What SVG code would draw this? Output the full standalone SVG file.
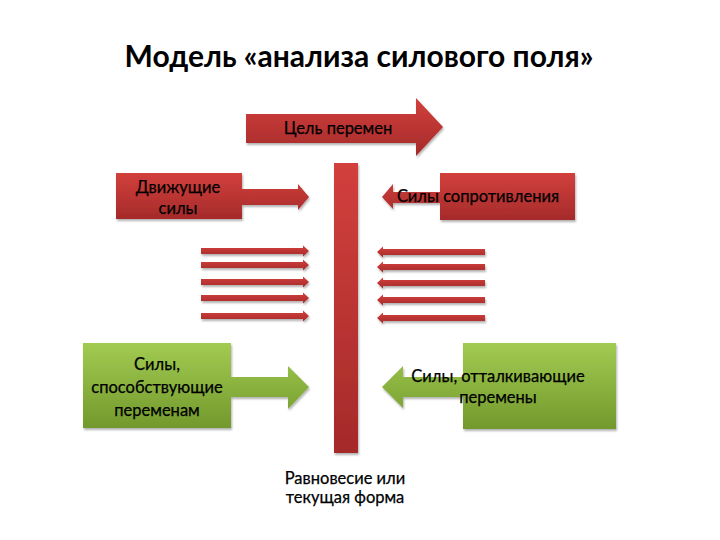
<svg xmlns="http://www.w3.org/2000/svg" width="720" height="540" viewBox="0 0 720 540">
<defs>
<linearGradient id="red" x1="0" y1="0" x2="0" y2="1"><stop offset="0" stop-color="#d2403c"/><stop offset="1" stop-color="#a52a2a"/></linearGradient>
<linearGradient id="green" x1="0" y1="0" x2="0" y2="1"><stop offset="0" stop-color="#a2cb52"/><stop offset="1" stop-color="#72992c"/></linearGradient>
<filter id="sh" x="-10%" y="-10%" width="130%" height="140%"><feDropShadow dx="1" dy="2" stdDeviation="1" flood-color="#000" flood-opacity="0.3"/></filter>
<style>
.r{fill:url(#red);filter:url(#sh)}
.g{fill:url(#green);filter:url(#sh)}
.t{font-family:Lato,"Open Sans",sans-serif;font-size:16.5px;fill:#000;stroke:#000;stroke-width:0.25;text-anchor:middle}
.title{font-family:Lato,"Open Sans",sans-serif;font-size:30px;font-weight:bold;fill:#000;text-anchor:middle}
</style>
</defs>
<rect width="720" height="540" fill="#fff"/>
<text class="title" x="359" y="67">Модель «анализа силового поля»</text>

<g id="connectors">
<g id="bar"><rect class="r" x="334" y="163" width="24" height="290"/></g>
<g id="left-arrows">
<path class="r" d="M201,248 H303 V245.5 L309,251 L303,256.5 V254 H201 Z"/>
<path class="r" d="M201,262 H303 V259.5 L309,265 L303,270.5 V268 H201 Z"/>
<path class="r" d="M201,279 H303 V276.5 L309,282 L303,287.5 V285 H201 Z"/>
<path class="r" d="M201,295 H303 V292.5 L309,298 L303,303.5 V301 H201 Z"/>
<path class="r" d="M201,313 H303 V310.5 L309,316 L303,321.5 V319 H201 Z"/>
</g>
<g id="right-arrows">
<path class="r" d="M485,249 H383 V246.5 L377,252 L383,257.5 V255 H485 Z"/>
<path class="r" d="M485,264 H383 V261.5 L377,267 L383,272.5 V270 H485 Z"/>
<path class="r" d="M485,280 H383 V277.5 L377,283 L383,288.5 V286 H485 Z"/>
<path class="r" d="M485,297 H383 V294.5 L377,300 L383,305.5 V303 H485 Z"/>
<path class="r" d="M485,315 H383 V312.5 L377,318 L383,323.5 V321 H485 Z"/>
</g>
</g>

<g id="goal">
<path class="r" d="M246,114 H416 V98 L443,127 L416,156 V143 H246 Z"/>
<text class="t" x="338" y="134">Цель перемен</text>
</g>

<g id="driving">
<path class="r" d="M116,173 H242 V189 H298 V184 L309,197 L298,210 V205 H242 V219 H116 Z"/>
<text class="t" x="178" y="193">Движущие</text>
<text class="t" x="178" y="214">силы</text>
</g>

<g id="resisting">
<path class="r" d="M575,173 H440 V192 H393 V184 L382,197 L393,209 V203 H440 V220 H575 Z"/>
<text class="t" x="478" y="202">Силы сопротивления</text>
</g>

<g id="promoting">
<path class="g" d="M83,343 H231 V377 H288 V366 L309,387 L288,409 V397 H231 V428 H83 Z"/>
<text class="t" x="157" y="370">Силы,</text>
<text class="t" x="157" y="393">способствующие</text>
<text class="t" x="157" y="416">переменам</text>
</g>

<g id="repelling">
<path class="g" d="M616,343 H463 V377 H403 V366 L382,387 L403,408 V397 H463 V429 H616 Z"/>
<text class="t" x="498" y="382">Силы, отталкивающие</text>
<text class="t" x="498" y="403">перемены</text>
</g>

<g id="equilibrium">
<text class="t" x="345" y="484">Равновесие или</text>
<text class="t" x="345" y="503">текущая форма</text>
</g>
</svg>
